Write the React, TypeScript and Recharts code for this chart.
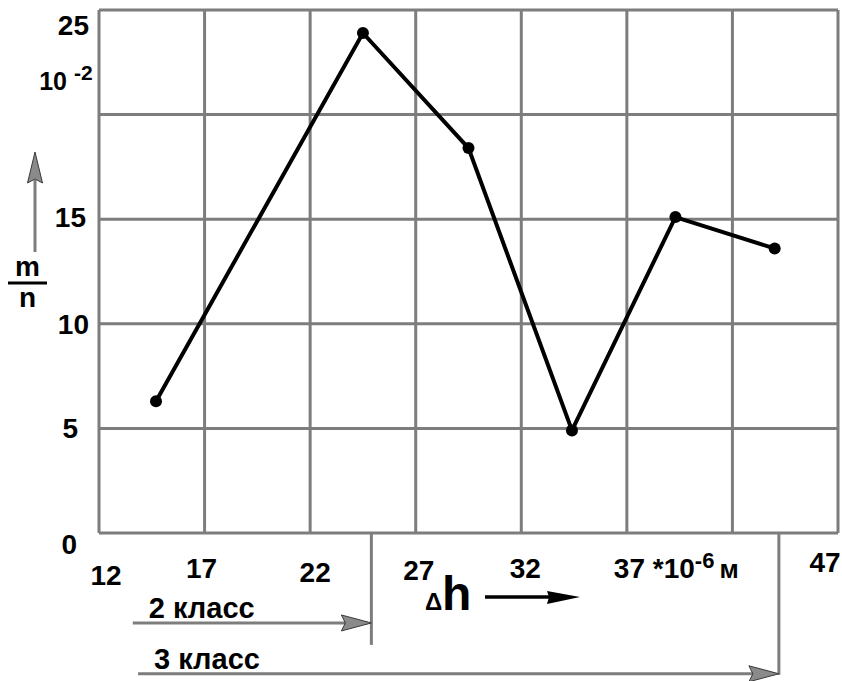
import React from 'react';
import { LineChart, Line, XAxis, YAxis, CartesianGrid, ReferenceLine } from 'recharts';

// Δh, *10^-6 m (class midpoints as plotted)
const dh = [14.7, 24.5, 29.5, 34.4, 39.3, 44.0];
// m/n, *10^-2
const mn = [6.3, 23.9, 18.4, 4.9, 15.1, 13.6];

const xTicks = [12, 17, 22, 27, 32, 37, 42, 47];
const yTicks = [0, 5, 10, 15, 20, 25];

// class markers under the axis
const classNames = ['2 класс', '3 класс'];
const classStart = [13.6, 13.85];
const classEnd = [24.9, 44.2];
const classLevel = [-4.3, -6.73];
const classDrop = [-5.35, -6.78];

const data = dh.map((x, i) => ({ dh: x, mn: mn[i] }));

const FONT = '"Liberation Sans", Arial, sans-serif';
const GRID = '#7d7d7d';

const yShift: Record<number, [number, number]> = {
  0: [-12, 11],
  5: [-11, 0],
  10: [0, 0],
  15: [-3, -2],
  25: [0, 15],
};

const YTick = (props: any) => {
  const { x, y, payload } = props;
  const v = payload.value;
  if (v === 20) {
    return (
      <g fontFamily={FONT} fontWeight="bold" fill="#000">
        <text x={x - 24} y={y - 25} textAnchor="end" fontSize={25}>10</text>
        <text x={x - 17} y={y - 35} fontSize={21}>-2</text>
      </g>
    );
  }
  const [dx, dy] = yShift[v] || [0, 0];
  return (
    <text x={x - 2 + dx} y={y + dy + 10} textAnchor="end" fontFamily={FONT} fontWeight="bold" fontSize={28} fill="#000">
      {v}
    </text>
  );
};

const xShift: Record<number, [number, number]> = {
  12: [7, 6],
  17: [-3, -1],
  22: [5, 3],
  27: [3, 1],
  32: [4, -1],
  47: [-13, -7],
};

const XTick = (props: any) => {
  const { x, payload } = props;
  const v = payload.value;
  const base = 579;
  if (v === 42) return null;
  if (v === 37) {
    return (
      <text x={x - 13} y={base - 1} fontFamily={FONT} fontWeight="bold" fontSize={28} fill="#000">
        37 *10
        <tspan dy={-10} fontSize={22}>-6</tspan>
        <tspan dx={5} dy={10} fontSize={26}>м</tspan>
      </text>
    );
  }
  const [dx, dy] = xShift[v] || [0, 0];
  return (
    <text x={x + dx} y={base + dy} textAnchor="middle" fontFamily={FONT} fontWeight="bold" fontSize={28} fill="#000">
      {v}
    </text>
  );
};

const YLabel = (props: any) => {
  const vb = props.viewBox;
  const ax = vb.x + 35;
  const top = vb.y + 142;
  return (
    <g fontFamily={FONT} fontWeight="bold" fill="#000">
      <line x1={ax} y1={top + 28} x2={ax} y2={top + 100} stroke={GRID} strokeWidth={3} />
      <polygon
        points={`${ax},${top} ${ax - 7.5},${top + 31} ${ax},${top + 27} ${ax + 7.5},${top + 31}`}
        fill="#8a8a8a"
        stroke="#3a3a3a"
        strokeWidth={1}
      />
      <text x={vb.x + 27.5} y={vb.y + 266} textAnchor="middle" fontSize={28}>m</text>
      <line x1={vb.x + 8} y1={vb.y + 273} x2={vb.x + 47} y2={vb.y + 273} stroke="#000" strokeWidth={3} />
      <text x={vb.x + 27.5} y={vb.y + 297} textAnchor="middle" fontSize={28}>n</text>
    </g>
  );
};

const XLabel = (props: any) => {
  const vb = props.viewBox;
  const bx = vb.x;
  const by = vb.y;
  return (
    <g fontFamily={FONT} fontWeight="bold" fill="#000">
      <text x={bx + 326} y={by + 77} fontSize={24}>Δ</text>
      <text x={bx + 343} y={by + 77} fontSize={48}>h</text>
      <line x1={bx + 386} y1={by + 64} x2={bx + 462} y2={by + 64} stroke="#000" strokeWidth={3.5} />
      <polygon points={`${bx + 481},${by + 64} ${bx + 448},${by + 58} ${bx + 450},${by + 64} ${bx + 448},${by + 71}`} fill="#000" />
    </g>
  );
};

const classArrow = (label: string) => (p: any) => {
  const { x1, y1, x2, y2 } = p;
  const left = Math.min(x1, x2);
  const right = Math.max(x1, x2);
  return (
    <g>
      <line x1={left} y1={y1} x2={right - 4} y2={y2} stroke={GRID} strokeWidth={3} />
      <polygon
        points={`${right},${y2} ${right - 30},${y2 - 8} ${right - 26},${y2} ${right - 30},${y2 + 8}`}
        fill="#8a8a8a"
        stroke="#3a3a3a"
        strokeWidth={1}
      />
      <text x={left + 16} y={y1 - 5} fontFamily={FONT} fontWeight="bold" fontSize={29} fill="#000">
        {label}
      </text>
    </g>
  );
};

export default function App() {
  return (
    <div style={{ position: 'absolute', left: 0, top: 0, width: 842, height: 681, background: '#fff' }}>
      <LineChart width={842} height={681} data={data} margin={{ top: 10, right: 4, left: 0, bottom: 0 }}>
        <CartesianGrid stroke={GRID} strokeWidth={3} />
        <XAxis
          dataKey="dh"
          type="number"
          domain={[12, 47]}
          ticks={xTicks}
          height={148}
          axisLine={false}
          tickLine={false}
          tick={<XTick />}
          interval={0}
          label={{ content: XLabel }}
        />
        <YAxis
          type="number"
          domain={[0, 25]}
          ticks={yTicks}
          width={99}
          axisLine={false}
          tickLine={false}
          tick={<YTick />}
          interval={0}
          label={{ content: YLabel }}
        />
        {classNames.map((name, i) => (
          <ReferenceLine
            key={'v' + i}
            segment={[
              { x: classEnd[i], y: 0 },
              { x: classEnd[i], y: classDrop[i] },
            ]}
            stroke={GRID}
            strokeWidth={3}
            ifOverflow="visible"
          />
        ))}
        {classNames.map((name, i) => (
          <ReferenceLine
            key={'h' + i}
            segment={[
              { x: classStart[i], y: classLevel[i] },
              { x: classEnd[i], y: classLevel[i] },
            ]}
            ifOverflow="visible"
            shape={classArrow(name)}
          />
        ))}
        <Line
          type="linear"
          dataKey="mn"
          stroke="#000"
          strokeWidth={4}
          dot={{ r: 6, fill: '#000', stroke: '#000', strokeWidth: 0 }}
          isAnimationActive={false}
        />
      </LineChart>
    </div>
  );
}
